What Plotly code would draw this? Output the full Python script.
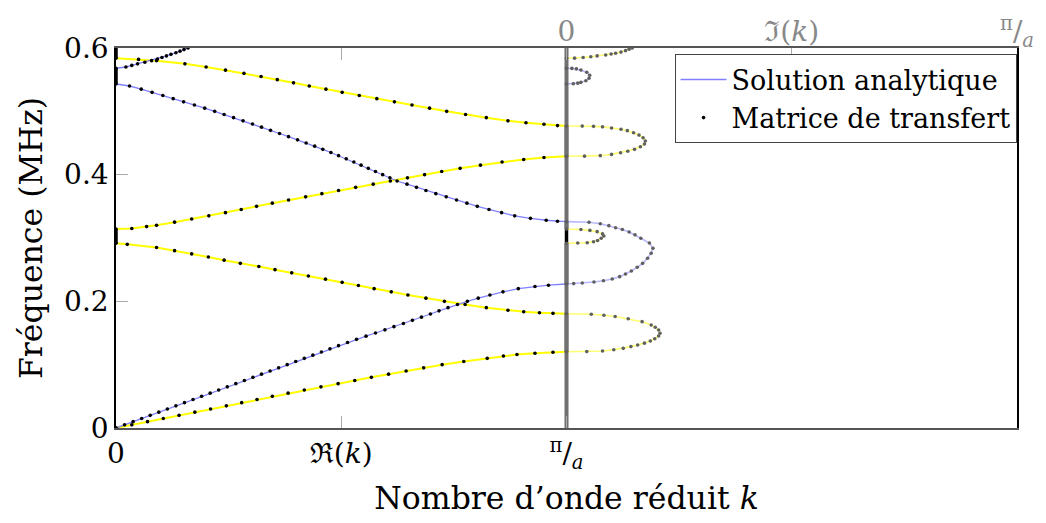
import plotly.graph_objects as go

# ---------------- data (frequency in MHz, k in units of pi/a) ----------------
# Branch "yellow": real part of k in pass bands
yel_b1_f = [0, 0.005, 0.010, 0.015, 0.020, 0.025, 0.030, 0.035, 0.040, 0.045, 0.050, 0.055,
            0.060, 0.065, 0.070, 0.075, 0.080, 0.085, 0.090, 0.095, 0.100, 0.105, 0.110,
            0.1137, 0.116, 0.118, 0.1195, 0.1203]
yel_b1_re = [0, 0.035, 0.070, 0.105, 0.140, 0.175, 0.210, 0.245, 0.279, 0.313, 0.347, 0.382,
             0.418, 0.455, 0.493, 0.530, 0.567, 0.605, 0.644, 0.683, 0.724, 0.772, 0.824,
             0.860, 0.890, 0.930, 0.970, 1.0]
yel_b2_f = [0.1805, 0.181, 0.182, 0.1835, 0.186, 0.190, 0.195, 0.200, 0.205, 0.210, 0.215,
            0.220, 0.225, 0.230, 0.235, 0.240, 0.245, 0.250, 0.255, 0.260, 0.265, 0.270,
            0.275, 0.280, 0.285, 0.290, 0.2917]
yel_b2_re = [1.0, 0.97, 0.94, 0.905, 0.870, 0.822, 0.775, 0.729, 0.688, 0.648, 0.611,
             0.573, 0.538, 0.502, 0.465, 0.427, 0.390, 0.353, 0.317, 0.276, 0.240, 0.205,
             0.168, 0.130, 0.090, 0.025, 0]
yel_b3_f = [0.3142, 0.315, 0.318, 0.320, 0.325, 0.330, 0.335, 0.340, 0.345, 0.350, 0.355,
            0.360, 0.365, 0.370, 0.375, 0.380, 0.385, 0.390, 0.395, 0.400, 0.405, 0.410,
            0.415, 0.420, 0.424, 0.427, 0.429]
yel_b3_re = [0, 0.035, 0.068, 0.090, 0.130, 0.168, 0.206, 0.243, 0.278, 0.312, 0.347,
             0.383, 0.421, 0.457, 0.494, 0.532, 0.571, 0.609, 0.647, 0.685, 0.723, 0.764,
             0.809, 0.857, 0.905, 0.950, 1.0]
yel_b4_f = [0.4769, 0.4775, 0.4795, 0.482, 0.485, 0.490, 0.495, 0.500, 0.505, 0.510, 0.515,
            0.520, 0.525, 0.530, 0.535, 0.540, 0.545, 0.550, 0.555, 0.560, 0.565, 0.570,
            0.575, 0.580, 0.582, 0.5837]
yel_b4_re = [1.0, 0.98, 0.95, 0.91, 0.870, 0.822, 0.776, 0.734, 0.696, 0.657, 0.618,
             0.579, 0.540, 0.502, 0.466, 0.429, 0.394, 0.358, 0.322, 0.284, 0.243, 0.200,
             0.153, 0.090, 0.050, 0]

# Branch "blue": real part of k in pass bands
blu_b1_f = [0, 0.005, 0.010, 0.015, 0.020, 0.025, 0.030, 0.035, 0.040, 0.045, 0.050, 0.055,
            0.060, 0.065, 0.070, 0.075, 0.080, 0.085, 0.090, 0.095, 0.100, 0.105, 0.110,
            0.115, 0.120, 0.125, 0.130, 0.135, 0.140, 0.145, 0.150, 0.155, 0.160, 0.165,
            0.170, 0.175, 0.180, 0.185, 0.190, 0.195, 0.200, 0.205, 0.210, 0.215, 0.220,
            0.2235, 0.2255, 0.2274]
blu_b1_re = [0, 0.019, 0.038, 0.057, 0.076, 0.095, 0.114, 0.133, 0.152, 0.171, 0.190, 0.209,
             0.228, 0.247, 0.266, 0.285, 0.304, 0.323, 0.342, 0.361, 0.380, 0.399, 0.418,
             0.437, 0.456, 0.475, 0.494, 0.514, 0.534, 0.555, 0.576, 0.597, 0.617, 0.638,
             0.658, 0.678, 0.698, 0.717, 0.737, 0.758, 0.780, 0.804, 0.830, 0.859, 0.893,
             0.930, 0.960, 1.0]
blu_b2_f = [0.3258, 0.3265, 0.328, 0.331, 0.335, 0.340, 0.345, 0.350, 0.355, 0.360, 0.365,
            0.370, 0.375, 0.380, 0.385, 0.390, 0.395, 0.400, 0.405, 0.410, 0.415, 0.420,
            0.425, 0.430, 0.435, 0.440, 0.445, 0.450, 0.455, 0.460, 0.465, 0.470, 0.475,
            0.480, 0.485, 0.490, 0.495, 0.500, 0.505, 0.510, 0.515, 0.520, 0.525, 0.530,
            0.535, 0.540, 0.5432]
blu_b2_re = [1.0, 0.98, 0.955, 0.920, 0.885, 0.856, 0.828, 0.802, 0.779, 0.756, 0.733,
             0.710, 0.688, 0.667, 0.646, 0.624, 0.608, 0.592, 0.576, 0.560, 0.544, 0.528,
             0.511, 0.494, 0.477, 0.459, 0.441, 0.422, 0.403, 0.383, 0.363, 0.343, 0.323,
             0.303, 0.282, 0.261, 0.240, 0.219, 0.197, 0.174, 0.150, 0.127, 0.104, 0.080,
             0.056, 0.030, 0]
blu_b3_f = [0.568, 0.570, 0.5725, 0.575, 0.5775, 0.580, 0.5825, 0.585, 0.5875, 0.590,
            0.5925, 0.595, 0.5975, 0.600]
blu_b3_re = [0, 0.022, 0.035, 0.048, 0.064, 0.079, 0.092, 0.102, 0.112, 0.122,
             0.133, 0.142, 0.151, 0.160]

# Imaginary part of k in the stop bands
yel_g1_f = [0.1203, 0.1206, 0.1215, 0.1235, 0.1258, 0.1285, 0.1310, 0.1340, 0.1374, 0.1410,
            0.1453, 0.1495, 0.1547, 0.1590, 0.1626, 0.1679, 0.1726, 0.1760, 0.1780, 0.1795,
            0.1805]
yel_g1_im = [0, 0.045, 0.080, 0.105, 0.126, 0.143, 0.158, 0.173, 0.186, 0.196,
             0.2045, 0.2076, 0.2045, 0.197, 0.188, 0.1678, 0.137, 0.108, 0.083, 0.055, 0]
blu_g1_f = [0.2274, 0.2280, 0.2290, 0.2305, 0.2325, 0.2353, 0.2390, 0.2432, 0.2480, 0.2537,
            0.2600, 0.2680, 0.2760, 0.2838, 0.2920, 0.2995, 0.3050, 0.3095, 0.3135, 0.3163,
            0.3195, 0.3225, 0.3248, 0.3258]
blu_g1_im = [0, 0.016, 0.035, 0.061, 0.082, 0.1015, 0.118, 0.131, 0.144, 0.157,
             0.169, 0.180, 0.188, 0.192, 0.184, 0.165, 0.152, 0.139, 0.124, 0.109,
             0.094, 0.075, 0.050, 0]
yel_g2_f = [0.2917, 0.2920, 0.2926, 0.2940, 0.2960, 0.2995, 0.3032, 0.3065, 0.3100, 0.3120,
            0.3135, 0.3142]
yel_g2_im = [0, 0.025, 0.046, 0.060, 0.069, 0.077, 0.083, 0.080, 0.068, 0.052, 0.032, 0]
yel_g3_f = [0.4290, 0.4292, 0.4300, 0.4320, 0.4347, 0.4370, 0.4400, 0.4440, 0.4484, 0.4532,
            0.4584, 0.4625, 0.4663, 0.4695, 0.4716, 0.4737, 0.4755, 0.4763, 0.4767, 0.4769]
yel_g3_im = [0, 0.040, 0.075, 0.100, 0.120, 0.136, 0.151, 0.164, 0.173, 0.175,
             0.170, 0.161, 0.149, 0.135, 0.121, 0.100, 0.080, 0.060, 0.035, 0]
blu_g2_f = [0.5432, 0.5435, 0.5445, 0.5458, 0.5484, 0.5522, 0.5569, 0.5616, 0.5653, 0.5670,
            0.5678, 0.5680]
blu_g2_im = [0, 0.015, 0.025, 0.032, 0.043, 0.050, 0.0515, 0.045, 0.032, 0.022, 0.012, 0]
yel_g4_f = [0.5837, 0.5840, 0.5850, 0.5863, 0.5875, 0.5890, 0.5905, 0.5916, 0.5935, 0.5958,
            0.5980, 0.6000]
yel_g4_im = [0, 0.018, 0.037, 0.054, 0.068, 0.087, 0.099, 0.109, 0.121, 0.131, 0.139, 0.146]

# Stop bands: real part pinned at 0 or pi/a
gaps_re0 = [(0.2917, 0.3142), (0.5432, 0.5680), (0.5837, 0.6000)]
gaps_repi = [(0.1203, 0.1805), (0.2274, 0.3258), (0.4290, 0.4769)]
# Frequencies where at least one mode propagates (Im(k) = 0)
pass_im0 = [(0.0, 0.2917), (0.3142, 0.6)]

# Axis ticks
x_tickvals = [0, 0.5, 1]
x_ticktext = ["0", "ℜ(<i>k</i>)", "<sup>π</sup>/<sub><i>a</i></sub>"]
x2_tickvals = [0, 0.5, 1]
x2_ticktext = ["0", "ℑ(<i>k</i>)", "<sup>π</sup>/<sub><i>a</i></sub>"]
y_tickvals = [0, 0.2, 0.4, 0.6]
y_ticktext = ["0", "0.2", "0.4", "0.6"]

# ---------------- styles ----------------
YEL = "#ffff00"
BLU = "#8080ff"
FONT = "DejaVu Serif"
FS_TICK = 28
FS_TITLE = 31.5
FS_LEG = 27
GRAY_DOT = "#5f5f5f"

fig = go.Figure()

real_sets = [(yel_b1_f, yel_b1_re, YEL, 2.0), (yel_b2_f, yel_b2_re, YEL, 2.0),
             (yel_b3_f, yel_b3_re, YEL, 2.0), (yel_b4_f, yel_b4_re, YEL, 2.0),
             (blu_b1_f, blu_b1_re, BLU, 1.3), (blu_b2_f, blu_b2_re, BLU, 1.3),
             (blu_b3_f, blu_b3_re, BLU, 1.3)]
imag_sets = [(yel_g1_f, yel_g1_im, YEL), (blu_g1_f, blu_g1_im, BLU), (yel_g2_f, yel_g2_im, YEL),
             (yel_g3_f, yel_g3_im, YEL), (blu_g2_f, blu_g2_im, BLU), (yel_g4_f, yel_g4_im, YEL)]

# analytic lines (real part)
first_blue = True
for f, re, col, w in real_sets:
    show = (col == BLU and first_blue)
    if show:
        first_blue = False
    fig.add_trace(go.Scatter(x=re, y=f, mode="lines", line=dict(color=col, width=w),
                             name="Solution analytique", showlegend=show,
                             legendrank=1, hoverinfo="skip"))
# analytic lines (imaginary part, paler)
for f, im, col in imag_sets:
    fig.add_trace(go.Scatter(x=im, y=f, xaxis="x2", mode="lines", opacity=0.55,
                             line=dict(color=col, width=1.6), showlegend=False, hoverinfo="skip"))

# stop bands on the real side: thick black marks at k=0 and k=pi/a
for a, b in gaps_re0:
    fig.add_trace(go.Scatter(x=[0, 0], y=[a, b], mode="lines", line=dict(color="black", width=3.5),
                             showlegend=False, cliponaxis=False, hoverinfo="skip"))
for a, b in gaps_repi:
    fig.add_trace(go.Scatter(x=[1, 1], y=[a, b], mode="lines", line=dict(color="black", width=3.5),
                             showlegend=False, hoverinfo="skip"))
# imaginary part = 0 in pass bands (gray)
for a, b in pass_im0:
    fig.add_trace(go.Scatter(x=[0, 0], y=[a, b], xaxis="x2", mode="lines",
                             line=dict(color="#707070", width=4), showlegend=False,
                             cliponaxis=False, hoverinfo="skip"))

# transfer-matrix points
first_pts = True
for f, re, col, w in real_sets:
    fig.add_trace(go.Scatter(x=re, y=f, mode="markers",
                             marker=dict(color="black", size=3.6, line=dict(width=0)),
                             name="Matrice de transfert", showlegend=first_pts,
                             legendrank=2, hoverinfo="skip"))
    first_pts = False
for f, im, col in imag_sets:
    fig.add_trace(go.Scatter(x=im, y=f, xaxis="x2", mode="markers",
                             marker=dict(color=GRAY_DOT, size=3.6, line=dict(width=0)),
                             showlegend=False, hoverinfo="skip"))

fig.update_layout(
    width=1046, height=523,
    margin=dict(l=116, r=25, t=48, b=95),
    paper_bgcolor="white", plot_bgcolor="white",
    font=dict(family=FONT, size=FS_TICK, color="black"),
    showlegend=True,
    legend=dict(x=0.9995, y=0.983, xanchor="right", yanchor="top",
                bgcolor="white", bordercolor="#444", borderwidth=1,
                font=dict(family=FONT, size=FS_LEG), tracegroupgap=0,
                itemwidth=46),
    xaxis=dict(range=[0, 2], tickvals=x_tickvals, ticktext=x_ticktext,
               ticks="inside", ticklen=12, tickcolor="#aaaaaa", tickwidth=1.2,
               tickfont=dict(family=FONT, size=FS_TICK, color="black"),
               showline=True, linecolor="#555", linewidth=1.5, mirror="ticks",
               showgrid=False, zeroline=False,
               title=dict(text="Nombre d’onde réduit <i>k</i>", standoff=14,
                          font=dict(family=FONT, size=FS_TITLE))),
    xaxis2=dict(range=[-1, 1], overlaying="x", side="top", tickvals=x2_tickvals,
                ticktext=x2_ticktext, ticks="inside", ticklen=12, tickcolor="#aaaaaa",
                tickwidth=1.2, tickfont=dict(color="#888888", family=FONT, size=FS_TICK),
                showline=False, showgrid=False, zeroline=False),
    yaxis=dict(range=[0, 0.6], tickvals=y_tickvals, ticktext=y_ticktext,
               ticks="inside", ticklen=12, tickcolor="#aaaaaa", tickwidth=1.2,
               tickfont=dict(family=FONT, size=FS_TICK, color="black"),
               showline=True, linecolor="black", linewidth=1.5, mirror=True,
               showgrid=False, zeroline=False,
               title=dict(text="Fréquence (MHz)", standoff=12,
                          font=dict(family=FONT, size=FS_TITLE))),
)

fig.write_html("out.html")
